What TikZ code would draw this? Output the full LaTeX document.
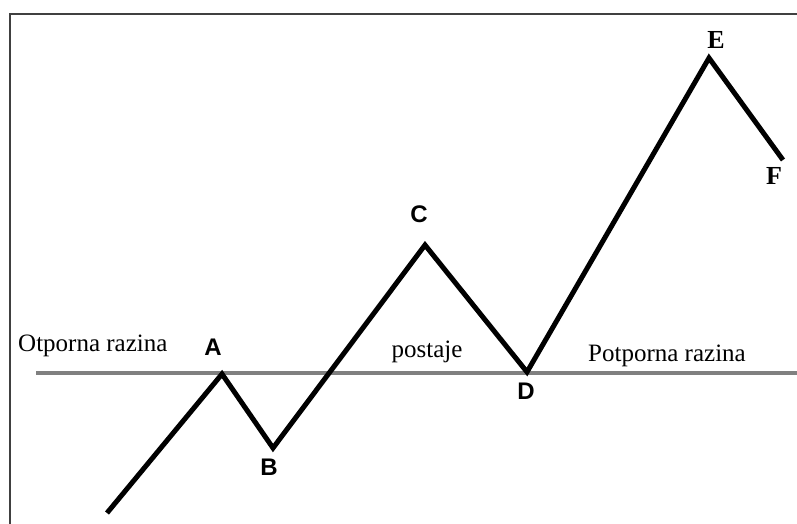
\documentclass[tikz,border=0pt]{standalone}
\usepackage{fontspec}
\setmainfont{Liberation Serif}
\newfontfamily\lblsans{Liberation Sans}
\begin{document}
\begin{tikzpicture}[x=1pt,y=-1pt,
  frame/.style={draw=black!75,line width=2pt},
  level/.style={draw=black!50,line width=4pt},
  price/.style={draw=black,line width=5pt,line join=miter},
  txt/.style={inner sep=0pt,font=\fontsize{25}{27}\selectfont},
  ptsans/.style={inner sep=0pt,font=\lblsans\bfseries\fontsize{24}{26}\selectfont},
  ptserif/.style={inner sep=0pt,font=\bfseries\fontsize{26}{28}\selectfont}]
\useasboundingbox (0,0) rectangle (797,524);
\fill[white] (0,0) rectangle (797,524);
% frame
\coordinate (fb) at (10,524);
\coordinate (ftl) at (10,14);
\coordinate (ftr) at (797,14);
\draw[frame] (fb) -- (ftl) -- (ftr);
% support/resistance level
\coordinate (l1) at (36,373);
\coordinate (l2) at (797,373);
\draw[level] (l1) -- (l2);
% price path
\coordinate (s) at (107,513);
\coordinate (pA) at (222,374);
\coordinate (pB) at (273,448);
\coordinate (pC) at (425,245);
\coordinate (pD) at (527,372);
\coordinate (pE) at (709,58);
\coordinate (pF) at (783,160);
\draw[price] (s) -- (pA) -- (pB) -- (pC) -- (pD) -- (pE) -- (pF);
% labels
\node[ptsans] (lA) at (213,347) {A};
\node[ptsans] (lB) at (269,467) {B};
\node[ptsans] (lC) at (419,214) {C};
\node[ptsans] (lD) at (526,391) {D};
\node[ptserif] (lE) at (716,40) {E};
\node[ptserif] (lF) at (774,176) {F};
\node[txt,anchor=base west] (t1) at (18,351) {Otporna razina};
\node[txt,anchor=base] (t2) at (427,357) {postaje};
\node[txt,anchor=base] (t3) at (667,361) {Potporna razina};
\end{tikzpicture}
\end{document}
